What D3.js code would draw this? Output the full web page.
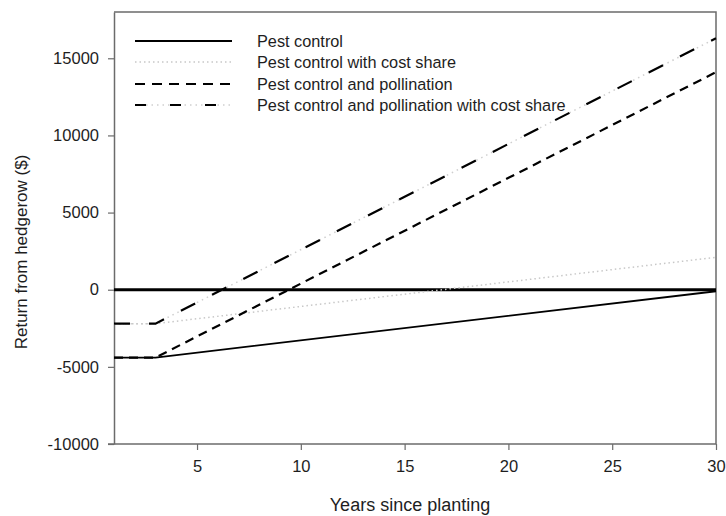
<!DOCTYPE html>
<html>
<head>
<meta charset="utf-8">
<script src="https://cdn.jsdelivr.net/npm/d3@7"></script>
<style>
  html, body { margin: 0; padding: 0; background: #fff; }
  svg { display: block; font-family: "Liberation Sans", Arial, sans-serif; }
</style>
</head>
<body>
<svg id="chart" width="726" height="516"></svg>
<script>
// Years since planting at which each scenario's value is given
const years = [1, 3, 30];

// Net return from hedgerow ($) for each scenario
const pestControl = [-4400, -4400, -100];
const pestControlCostShare = [-2200, -2200, 2100];
const pestPollination = [-4400, -4400, 14100];
const pestPollinationCostShare = [-2200, -2200, 16300];

const seriesNames = [
  "Pest control",
  "Pest control with cost share",
  "Pest control and pollination",
  "Pest control and pollination with cost share"
];

const xTicks = [5, 10, 15, 20, 25, 30];
const yTicks = [-10000, -5000, 0, 5000, 10000, 15000];

const svg = d3.select("#chart");
const plotLeft = 114, plotRight = 716, plotTop = 12, plotBottom = 444;

const x = d3.scaleLinear().domain([1, 30]).range([plotLeft, plotRight]);
const y = d3.scaleLinear().domain([-10000, 18000]).range([plotBottom, plotTop]);

const axisColor = "#6b6b6b";
const textColor = "#1e1e1e";

// Frame (top and right sides)
svg.append("path")
  .attr("d", `M${plotLeft},${plotTop}H${plotRight}V${plotBottom}`)
  .attr("fill", "none").attr("stroke", axisColor).attr("stroke-width", 1.5);

// Y axis
const yAxis = svg.append("g").attr("transform", `translate(${plotLeft},0)`)
  .call(d3.axisLeft(y).tickValues(yTicks).tickFormat(d => String(d))
    .tickSize(6).tickPadding(9).tickSizeOuter(0));
yAxis.attr("font-size", 16.5).attr("font-family", "Liberation Sans, Arial, sans-serif");
yAxis.select(".domain").attr("stroke", axisColor).attr("stroke-width", 1.5);
yAxis.selectAll(".tick line").attr("stroke", axisColor).attr("stroke-width", 1.2);
yAxis.selectAll(".tick text").attr("fill", textColor);

// X axis
const xAxis = svg.append("g").attr("transform", `translate(0,${plotBottom})`)
  .call(d3.axisBottom(x).tickValues(xTicks).tickFormat(d => String(d))
    .tickSize(6).tickPadding(10).tickSizeOuter(0));
xAxis.attr("font-size", 16.5).attr("font-family", "Liberation Sans, Arial, sans-serif");
xAxis.select(".domain").attr("stroke", axisColor).attr("stroke-width", 1.5)
  .attr("d", `M${plotLeft - 6},0H${plotRight}`);
xAxis.selectAll(".tick line").attr("stroke", axisColor).attr("stroke-width", 1.2);
xAxis.selectAll(".tick text").attr("fill", textColor);

// Axis titles
svg.append("text")
  .attr("x", 410).attr("y", 511)
  .attr("text-anchor", "middle").attr("font-size", 18).attr("fill", textColor)
  .text("Years since planting");
svg.append("text")
  .attr("transform", `translate(27,252) rotate(-90)`)
  .attr("text-anchor", "middle").attr("font-size", 17).attr("fill", textColor)
  .text("Return from hedgerow ($)");

// Break-even reference line
svg.append("line")
  .attr("x1", plotLeft).attr("x2", plotRight)
  .attr("y1", y(0)).attr("y2", y(0))
  .attr("stroke", "#000").attr("stroke-width", 3);

const line = d3.line().x((d, i) => x(years[i])).y(d => y(d));

// Pest control with cost share: faint dotted line
svg.append("path").datum(pestControlCostShare)
  .attr("d", line).attr("fill", "none")
  .attr("stroke", "#c8c8c8").attr("stroke-width", 1.5).attr("stroke-dasharray", "1.5,3");

// Pest control and pollination with cost share: dash with faint dots
svg.append("path").datum(pestPollinationCostShare)
  .attr("d", line).attr("fill", "none")
  .attr("stroke", "#cfcfcf").attr("stroke-width", 1.5).attr("stroke-dasharray", "1.5,4");
svg.append("path").datum(pestPollinationCostShare)
  .attr("d", line).attr("fill", "none")
  .attr("stroke", "#000").attr("stroke-width", 2.2).attr("stroke-dasharray", "16,19");

// Pest control and pollination: dashed
svg.append("path").datum(pestPollination)
  .attr("d", line).attr("fill", "none")
  .attr("stroke", "#000").attr("stroke-width", 2.2).attr("stroke-dasharray", "9,6");

// Pest control: solid
svg.append("path").datum(pestControl)
  .attr("d", line).attr("fill", "none")
  .attr("stroke", "#000").attr("stroke-width", 1.8);

// Legend
const legend = svg.append("g");
const legendRows = [41, 62, 84, 105];
const lx1 = 135, lx2 = 232, tx = 257;
legendRows.forEach((ry, i) => {
  const g = legend.append("g");
  if (i === 0) {
    g.append("line").attr("x1", lx1).attr("x2", lx2).attr("y1", ry).attr("y2", ry)
      .attr("stroke", "#000").attr("stroke-width", 2);
  } else if (i === 1) {
    g.append("line").attr("x1", lx1).attr("x2", lx2).attr("y1", ry).attr("y2", ry)
      .attr("stroke", "#c8c8c8").attr("stroke-width", 1.5).attr("stroke-dasharray", "1.5,3");
  } else if (i === 2) {
    g.append("line").attr("x1", lx1).attr("x2", lx2).attr("y1", ry).attr("y2", ry)
      .attr("stroke", "#000").attr("stroke-width", 2).attr("stroke-dasharray", "10,7");
  } else {
    g.append("line").attr("x1", lx1).attr("x2", lx2).attr("y1", ry).attr("y2", ry)
      .attr("stroke", "#cfcfcf").attr("stroke-width", 1.5).attr("stroke-dasharray", "1.5,4");
    g.append("line").attr("x1", lx1).attr("x2", lx2).attr("y1", ry).attr("y2", ry)
      .attr("stroke", "#000").attr("stroke-width", 2).attr("stroke-dasharray", "11,24");
  }
  g.append("text").attr("x", tx).attr("y", ry).attr("dy", "0.35em")
    .attr("font-size", 16.3).attr("fill", textColor).text(seriesNames[i]);
});
</script>
</body>
</html>
